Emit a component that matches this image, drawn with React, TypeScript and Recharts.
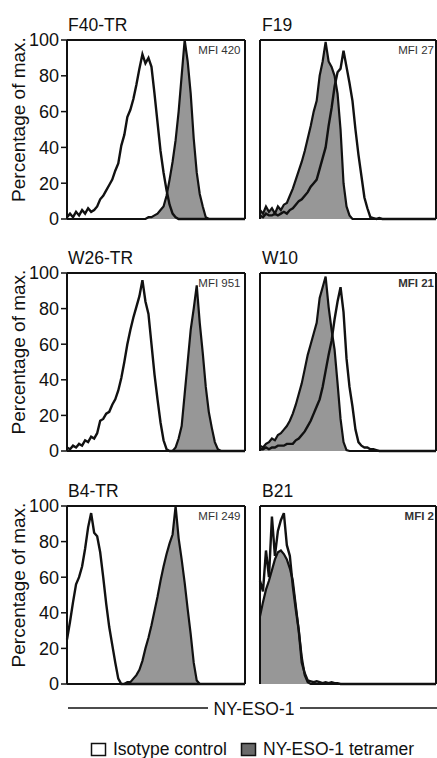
import React from 'react';
import { ComposedChart, Area, Line, XAxis, YAxis, ReferenceLine } from 'recharts';

// histogram heights (% of max) per fluorescence bin
const F40_ISO = [1, 3, 1, 4, 2, 5, 3, 6, 4, 5, 7, 11, 13, 16, 19, 22, 27, 31, 41, 47, 57, 61, 67, 75, 84, 92, 87, 90, 85, 70, 54, 38, 26, 16, 8, 3, 1, 0, 0, 0, 0, 0, 0, 0, 0, 0, 0, 0, 0, 0, 0, 0, 0, 0, 0, 0, 0, 0, 0, 0];
const F40_TET = [0, 0, 0, 0, 0, 0, 0, 0, 0, 0, 0, 0, 0, 0, 0, 0, 0, 0, 0, 0, 0, 0, 0, 0, 0, 0, 0, 1, 1, 2, 3, 5, 7, 13, 22, 32, 44, 60, 80, 100, 88, 70, 45, 26, 14, 7, 1, 0, 0, 0, 0, 0, 0, 0, 0, 0, 0, 0, 0, 0];
const F19_ISO = [2, 1, 3, 2, 2, 3, 2, 3, 4, 3, 5, 6, 8, 10, 11, 13, 15, 18, 20, 22, 28, 34, 40, 52, 62, 74, 82, 84, 94, 85, 76, 66, 50, 36, 24, 12, 6, 1, 0.5, 0, 0.5, 0, 0, 0, 0, 0, 0, 0, 0, 0, 0, 0, 0, 0, 0, 0, 0, 0, 0, 0];
const F19_TET = [5, 3, 7, 4, 6, 3, 7, 5, 8, 9, 13, 17, 22, 27, 32, 38, 45, 52, 60, 66, 80, 88, 99, 88, 85, 80, 70, 50, 20, 7, 2, 0, 0, 0, 0, 0, 0, 0, 0, 0, 0, 0, 0, 0, 0, 0, 0, 0, 0, 0, 0, 0, 0, 0, 0, 0, 0, 0, 0, 0];
const W26_ISO = [2, 1, 3, 2, 4, 3, 6, 5, 8, 7, 10, 17, 18, 21, 22, 26, 29, 34, 41, 50, 60, 68, 75, 81, 87, 96, 84, 77, 60, 43, 29, 16, 6, 1, 0, 0, 0, 0, 0, 0, 0, 0, 0, 0, 0, 0, 0, 0, 0, 0, 0, 0, 0, 0, 0, 0, 0, 0, 0, 0];
const W26_TET = [0, 0, 0, 0, 0, 0, 0, 0, 0, 0, 0, 0, 0, 0, 0, 0, 0, 0, 0, 0, 0, 0, 0, 0, 0, 0, 0, 0, 0, 0, 0, 0, 0, 0, 0, 0, 2, 7, 14, 32, 50, 68, 80, 93, 72, 55, 36, 22, 13, 5, 1, 0, 0, 0, 0, 0, 0, 0, 0, 0];
const W10_ISO = [1, 1, 2, 1, 2, 2, 3, 3, 3, 4, 4, 4, 6, 7, 9, 11, 14, 17, 21, 25, 29, 36, 45, 54, 62, 74, 84, 92, 78, 52, 36, 25, 12, 5, 3, 2, 2, 1, 1, 0.5, 0, 0, 0, 0, 0, 0, 0, 0, 0, 0, 0, 0, 0, 0, 0, 0, 0, 0, 0, 0];
const W10_TET = [3, 2, 4, 5, 7, 6, 9, 10, 12, 14, 17, 21, 26, 32, 38, 46, 54, 60, 66, 72, 86, 92, 98, 81, 68, 57, 38, 18, 5, 0.5, 0, 0, 0, 0, 0, 0, 0, 0, 0, 0, 0, 0, 0, 0, 0, 0, 0, 0, 0, 0, 0, 0, 0, 0, 0, 0, 0, 0, 0, 0];
const B4_ISO = [25, 35, 46, 56, 60, 66, 76, 88, 96, 85, 83, 74, 60, 45, 32, 22, 12, 3, 0, 0, 0, 0, 0, 0, 0, 0, 0, 0, 0, 0, 0, 0, 0, 0, 0, 0, 0, 0, 0, 0, 0, 0, 0, 0, 0, 0, 0, 0, 0, 0, 0, 0, 0, 0, 0, 0, 0, 0, 0, 0];
const B4_TET = [0, 0, 0, 0, 0, 0, 0, 0, 0, 0, 0, 0, 0, 0, 0, 0, 0, 0, 0, 0, 1, 1, 3, 5, 8, 13, 20, 26, 33, 41, 49, 58, 66, 73, 79, 84, 100, 82, 70, 57, 42, 28, 12, 2, 0, 0, 0, 0, 0, 0, 0, 0, 0, 0, 0, 0, 0, 0, 0, 0];
const B21_ISO = [58, 52, 75, 60, 94, 72, 86, 92, 96, 78, 72, 55, 42, 30, 12, 6, 2, 1.5, 1, 1.5, 1, 0.5, 1, 0.5, 1, 0.5, 0.5, 0, 0, 0, 0, 0, 0, 0, 0, 0, 0, 0, 0, 0, 0, 0, 0, 0, 0, 0, 0, 0, 0, 0, 0, 0, 0, 0, 0, 0, 0, 0, 0, 0];
const B21_TET = [38, 46, 53, 58, 64, 70, 74, 75, 73, 70, 65, 58, 44, 30, 15, 5, 1, 0, 0, 0, 0, 0, 0, 0, 0, 0, 0, 0, 0, 0, 0, 0, 0, 0, 0, 0, 0, 0, 0, 0, 0, 0, 0, 0, 0, 0, 0, 0, 0, 0, 0, 0, 0, 0, 0, 0, 0, 0, 0, 0];

const NAMES = ['F40-TR', 'F19', 'W26-TR', 'W10', 'B4-TR', 'B21'];
const MFI = ['MFI 420', 'MFI 27', 'MFI 951', 'MFI 21', 'MFI 249', 'MFI 2'];
const Y_TICKS = [0, 20, 40, 60, 80, 100];

const ISO = [F40_ISO, F19_ISO, W26_ISO, W10_ISO, B4_ISO, B21_ISO];
const TET = [F40_TET, F19_TET, W26_TET, W10_TET, B4_TET, B21_TET];

const INK = '#111';
const GRAY = '#979797';
const FONT = '"Liberation Sans", Arial, sans-serif';

const ROW_TOP = [40, 273, 506];
const ROW_H = [179, 178, 178];

function Histogram({ idx }: { idx: number }) {
  const row = Math.floor(idx / 2);
  const left = idx % 2 === 0;
  const iso = ISO[idx];
  const tet = TET[idx];
  const data = iso.map((v, i) => ({ bin: i, iso: v, tet: tet[i] }));
  const h = ROW_H[row];
  return (
    <div style={{ position: 'absolute', left: left ? 0 : 200, top: ROW_TOP[row] - 10 }}>
      <ComposedChart
        width={left ? 250 : 237}
        height={h + 22}
        data={data}
        margin={{ top: 10, right: left ? 5 : 1, bottom: 12, left: 0 }}
      >
        <XAxis
          dataKey="bin"
          type="number"
          domain={[0, iso.length - 1]}
          tick={false}
          tickLine={false}
          height={0}
          axisLine={{ stroke: INK, strokeWidth: 2 }}
        />
        <YAxis
          type="number"
          domain={[0, 100]}
          ticks={Y_TICKS}
          interval={0}
          width={left ? 67 : 60}
          tickSize={6}
          tickLine={{ stroke: INK, strokeWidth: 1.5 }}
          axisLine={{ stroke: INK, strokeWidth: 2 }}
          tick={left ? { fontSize: 18, fill: INK, fontFamily: FONT } : false}
        />
        <Area
          type="linear"
          dataKey="tet"
          fill={GRAY}
          fillOpacity={1}
          stroke={INK}
          strokeWidth={2.2}
          strokeLinejoin="miter"
          isAnimationActive={false}
        />
        <Line
          type="linear"
          dataKey="iso"
          stroke={INK}
          strokeWidth={2.4}
          dot={false}
          isAnimationActive={false}
        />
        <ReferenceLine y={100} stroke={INK} strokeWidth={2} />
        <ReferenceLine x={iso.length - 1} stroke={INK} strokeWidth={2} />
      </ComposedChart>
    </div>
  );
}

export default function App() {
  return (
    <div style={{ position: 'absolute', left: 0, top: 0, width: 437, height: 758, background: '#fff', fontFamily: FONT }}>
      {NAMES.map((_, i) => (
        <Histogram key={i} idx={i} />
      ))}
      <svg width={437} height={758} style={{ position: 'absolute', left: 0, top: 0, pointerEvents: 'none' }}>
        {NAMES.map((name, i) => {
          const row = Math.floor(i / 2);
          const left = i % 2 === 0;
          const top = ROW_TOP[row];
          return (
            <g key={name} fontFamily={FONT}>
              <text x={left ? 68 : 262} y={top - 9} fontSize={17.5} fill={INK}>
                {name}
              </text>
              <text
                x={left ? 240.5 : 434}
                y={top + 13.5}
                fontSize={11.5}
                textAnchor="end"
                fill="#333"
                fontWeight={i === 3 || i === 5 ? 'bold' : 'normal'}
              >
                {MFI[i]}
              </text>
              {left && (
                <text
                  x={25}
                  y={top + ROW_H[row] / 2 - 10}
                  fontSize={19}
                  fill={INK}
                  textAnchor="middle"
                  transform={`rotate(-90 25 ${top + ROW_H[row] / 2 - 10})`}
                >
                  Percentage of max.
                </text>
              )}
            </g>
          );
        })}
        <line x1={68} y1={708} x2={208} y2={708} stroke={INK} strokeWidth={1.5} />
        <line x1={300} y1={708} x2={437} y2={708} stroke={INK} strokeWidth={1.5} />
        <text x={254} y={715} fontSize={17.5} fontFamily={FONT} textAnchor="middle" fill={INK}>
          NY-ESO-1
        </text>
        <rect x={91.5} y={743.5} width={14} height={12} fill="#fff" stroke={INK} strokeWidth={1.5} />
        <text x={113} y={755} fontSize={17.5} fontFamily={FONT} fill={INK}>
          Isotype control
        </text>
        <rect x={241.5} y={743.5} width={14} height={12} fill="#6a6a6a" stroke={INK} strokeWidth={1.5} />
        <text x={263} y={755} fontSize={17.5} fontFamily={FONT} fill={INK}>
          NY-ESO-1 tetramer
        </text>
      </svg>
    </div>
  );
}
